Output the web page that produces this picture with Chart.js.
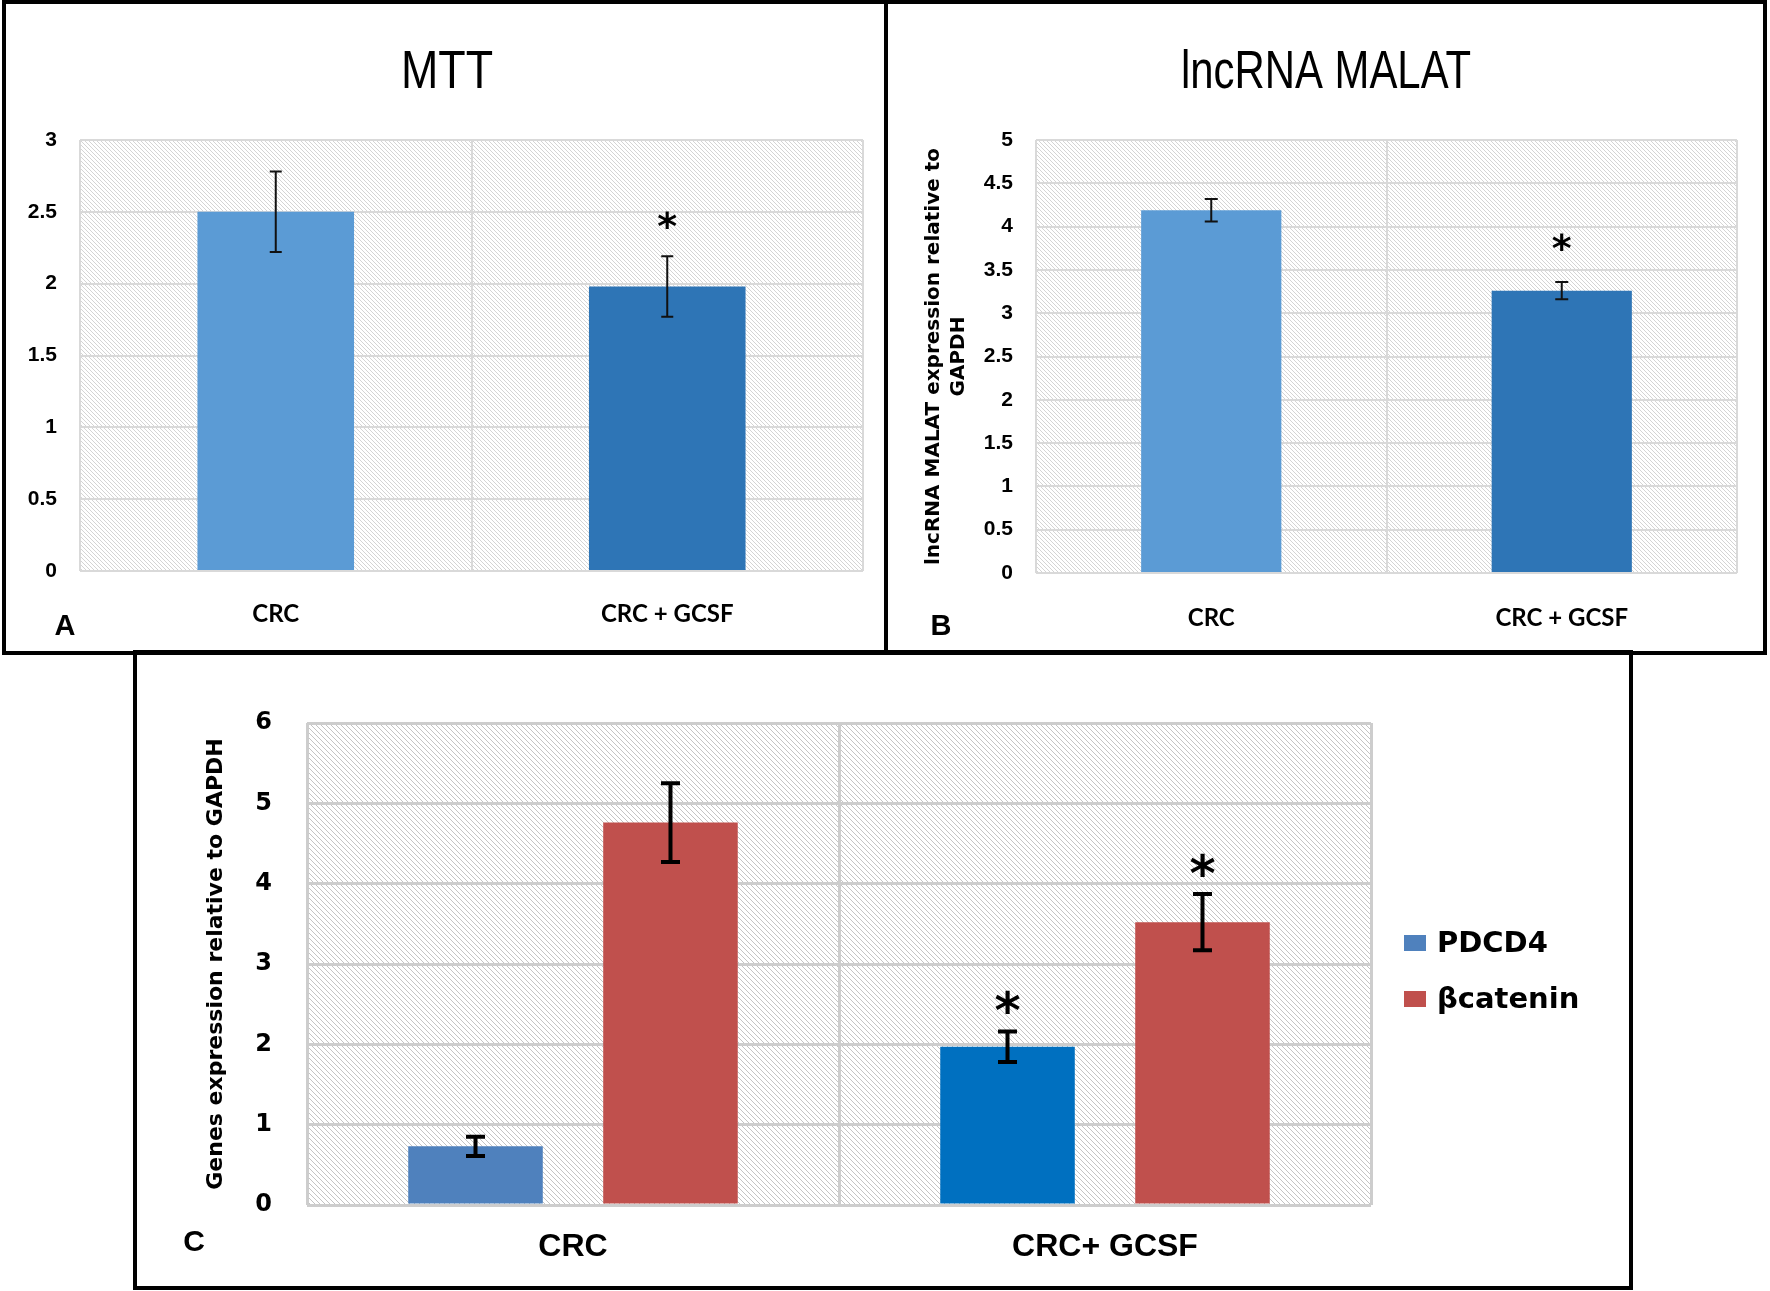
<!DOCTYPE html>
<html>
<head>
<meta charset="utf-8">
<script src="https://cdn.jsdelivr.net/npm/chart.js@4.4.1/dist/chart.umd.min.js"></script>
<style>
  body { margin: 0; background: #fff; width: 1770px; height: 1291px; position: relative; overflow: hidden; }
  canvas { position: absolute; }
  .box { position: absolute; border: 4px solid #000; box-sizing: border-box; }
</style>
</head>
<body>
<canvas id="chartA" width="886" height="652" style="left:0;top:0"></canvas>
<canvas id="chartB" width="880" height="652" style="left:886px;top:0"></canvas>
<canvas id="chartC" width="1500" height="636" style="left:133px;top:652px"></canvas>
<div class="box" style="left:2px;top:0;width:886px;height:655px"></div>
<div class="box" style="left:884px;top:0;width:883px;height:655px"></div>
<div class="box" style="left:133px;top:650px;width:1500px;height:640px"></div>
<script>
// panel A - MTT
const groups = ['CRC', 'CRC + GCSF'];
const mttMean = [2.5, 1.98];
const mttErr = [0.28, 0.21];
const mttSig = [false, true];
const mttTicks = [0, 0.5, 1, 1.5, 2, 2.5, 3];

// panel B - lncRNA MALAT
const malatMean = [4.19, 3.26];
const malatErr = [0.13, 0.1];
const malatSig = [false, true];
const malatTicks = [0, 0.5, 1, 1.5, 2, 2.5, 3, 3.5, 4, 4.5, 5];

// panel C - genes
const groupsC = ['CRC', 'CRC+ GCSF'];
const pdcd4Mean = [0.73, 1.97];
const pdcd4Err = [0.12, 0.19];
const pdcd4Sig = [false, true];
const bcatMean = [4.76, 3.52];
const bcatErr = [0.49, 0.35];
const bcatSig = [false, true];
const genesTicks = [0, 1, 2, 3, 4, 5, 6];

Chart.defaults.color = '#000';

const lato = 'Lato, "Liberation Sans", sans-serif';
const arial = '"Liberation Sans", sans-serif';
const dejavu = '"DejaVu Sans", sans-serif';

function hatch(ctx, size, color) {
    const c = document.createElement('canvas');
    c.width = c.height = size;
    const g = c.getContext('2d');
    g.fillStyle = '#fff';
    g.fillRect(0, 0, size, size);
    g.fillStyle = color;
    for (let i = 0; i < size; i++) g.fillRect(i, i, 1, 1);
    return ctx.createPattern(c, 'repeat');
}

// hatched plot background, error bars, stars, titles, legend
const panelPlugin = {
    id: 'panel',
    beforeDraw(chart, args, opts) {
        const { ctx, chartArea: a } = chart;
        if (!chart.$hatch) chart.$hatch = hatch(ctx, opts.hatchSize, opts.hatchColor);
        ctx.save();
        ctx.fillStyle = chart.$hatch;
        ctx.fillRect(a.left, a.top, a.right - a.left, a.bottom - a.top);
        ctx.restore();
    },
    afterDatasetsDraw(chart, args, opts) {
        const { ctx } = chart;
        const y = chart.scales.y;
        chart.data.datasets.forEach((ds, di) => {
            chart.getDatasetMeta(di).data.forEach((bar, i) => {
                const top = y.getPixelForValue(ds.data[i] + ds.errors[i]);
                const bot = y.getPixelForValue(ds.data[i] - ds.errors[i]);
                const half = opts.capWidth / 2;
                ctx.save();
                ctx.strokeStyle = opts.errColor;
                ctx.lineWidth = opts.errWidth;
                ctx.beginPath();
                ctx.moveTo(bar.x, top); ctx.lineTo(bar.x, bot);
                ctx.moveTo(bar.x - half, top); ctx.lineTo(bar.x + half, top);
                ctx.moveTo(bar.x - half, bot); ctx.lineTo(bar.x + half, bot);
                ctx.stroke();
                if (ds.sig[i]) {
                    ctx.font = opts.starFont;
                    ctx.fillStyle = '#000';
                    ctx.textAlign = 'center';
                    ctx.textBaseline = 'alphabetic';
                    const m = ctx.measureText('*');
                    const cy = top - opts.starGap;
                    ctx.fillText('*', bar.x, cy + (m.actualBoundingBoxAscent - m.actualBoundingBoxDescent) / 2);
                }
                ctx.restore();
            });
        });
    },
    afterDraw(chart, args, opts) {
        const { ctx } = chart;
        ctx.save();
        ctx.fillStyle = '#000';
        ctx.textAlign = 'center';
        ctx.textBaseline = 'middle';
        if (opts.title) {
            ctx.save();
            ctx.font = opts.titleFont;
            ctx.translate(opts.titleX, opts.titleY);
            ctx.scale(opts.titleScaleX, 1);
            ctx.fillText(opts.title, 0, 0);
            ctx.restore();
        }
        ctx.font = opts.letterFont;
        ctx.fillText(opts.letter, opts.letterX, opts.letterY);
        if (opts.legend) {
            const lg = opts.legend;
            ctx.textAlign = 'left';
            ctx.font = lg.font;
            chart.data.datasets.forEach((ds, di) => {
                const cy = lg.y + di * lg.gap;
                ctx.fillStyle = ds.legendColor;
                ctx.fillRect(lg.x, cy - lg.boxH / 2, lg.boxW, lg.boxH);
                ctx.fillStyle = '#000';
                ctx.fillText(ds.label, lg.x + lg.boxW + lg.textGap, cy + 1);
            });
        }
        ctx.restore();
    }
};

function yScale(max, ticks, width, pad, font, grid, title) {
    return {
        min: 0,
        max: max,
        afterBuildTicks: s => { s.ticks = ticks.map(v => ({ value: v })); },
        afterFit: s => { s.width = width; },
        grid: grid,
        border: { display: false },
        ticks: { padding: pad, font: font, callback: v => String(v) },
        title: title || { display: false }
    };
}

function xScale(height, pad, font, grid) {
    return {
        afterFit: s => { s.height = height; },
        grid: grid,
        border: { display: false },
        ticks: { padding: pad, font: font }
    };
}

const gridAB = { color: '#d9d9d9', lineWidth: 2, drawTicks: false };
const gridC = { color: '#cdcdcd', lineWidth: 3, drawTicks: false };

new Chart(document.getElementById('chartA'), {
    type: 'bar',
    data: {
        labels: groups,
        datasets: [{
            label: 'MTT',
            data: mttMean,
            errors: mttErr,
            sig: mttSig,
            backgroundColor: ['#5b9bd5', '#2e75b6'],
            barPercentage: 0.4,
            categoryPercentage: 1
        }]
    },
    options: {
        responsive: false,
        animation: false,
        devicePixelRatio: 1,
        layout: { padding: { top: 140, right: 23, left: 0, bottom: 0 } },
        plugins: {
            legend: { display: false },
            tooltip: { enabled: false },
            panel: {
                hatchSize: 4, hatchColor: '#d4d4d4',
                errColor: '#111', errWidth: 2, capWidth: 12,
                starFont: 'bold 38px ' + dejavu, starGap: 36,
                title: 'MTT', titleFont: '54px ' + arial, titleScaleX: 0.83, titleX: 447, titleY: 73,
                letter: 'A', letterFont: 'bold 29px ' + arial, letterX: 65, letterY: 627
            }
        },
        scales: {
            x: xScale(81, 29, { family: lato, size: 24, weight: 'bold' }, gridAB),
            y: yScale(3, mttTicks, 80, 23, { family: arial, size: 21, weight: 'bold' }, gridAB)
        }
    },
    plugins: [panelPlugin]
});

new Chart(document.getElementById('chartB'), {
    type: 'bar',
    data: {
        labels: groups,
        datasets: [{
            label: 'lncRNA MALAT',
            data: malatMean,
            errors: malatErr,
            sig: malatSig,
            backgroundColor: ['#5b9bd5', '#2e75b6'],
            barPercentage: 0.4,
            categoryPercentage: 1
        }]
    },
    options: {
        responsive: false,
        animation: false,
        devicePixelRatio: 1,
        layout: { padding: { top: 140, right: 29, left: 0, bottom: 0 } },
        plugins: {
            legend: { display: false },
            tooltip: { enabled: false },
            panel: {
                hatchSize: 4, hatchColor: '#d4d4d4',
                errColor: '#111', errWidth: 2, capWidth: 13,
                starFont: 'bold 38px ' + dejavu, starGap: 40,
                title: 'lncRNA MALAT', titleFont: '53px ' + arial, titleScaleX: 0.79, titleX: 440, titleY: 73,
                letter: 'B', letterFont: 'bold 29px ' + arial, letterX: 55, letterY: 627
            }
        },
        scales: {
            x: xScale(79, 31, { family: lato, size: 24, weight: 'bold' }, gridAB),
            y: yScale(5, malatTicks, 150, 23, { family: arial, size: 21, weight: 'bold' }, gridAB, {
                display: true,
                text: ['lncRNA MALAT expression relative to', 'GAPDH'],
                font: { family: dejavu, size: 20, weight: 'bold', lineHeight: 1.25 },
                padding: { top: 35, bottom: 0 }
            })
        }
    },
    plugins: [panelPlugin]
});

new Chart(document.getElementById('chartC'), {
    type: 'bar',
    data: {
        labels: groupsC,
        datasets: [{
            label: 'PDCD4',
            data: pdcd4Mean,
            errors: pdcd4Err,
            sig: pdcd4Sig,
            backgroundColor: ['#4f81bd', '#0070c0'],
            legendColor: '#4f81bd',
            barPercentage: 0.69,
            categoryPercentage: 0.733
        }, {
            label: 'βcatenin',
            data: bcatMean,
            errors: bcatErr,
            sig: bcatSig,
            backgroundColor: '#c0504d',
            legendColor: '#c0504d',
            barPercentage: 0.69,
            categoryPercentage: 0.733
        }]
    },
    options: {
        responsive: false,
        animation: false,
        devicePixelRatio: 1,
        layout: { padding: { top: 71, right: 262, left: 0, bottom: 0 } },
        plugins: {
            legend: { display: false },
            tooltip: { enabled: false },
            panel: {
                hatchSize: 5, hatchColor: '#c4c4c4',
                errColor: '#000', errWidth: 4, capWidth: 19,
                starFont: 'bold 50px ' + dejavu, starGap: 29,
                letter: 'C', letterFont: 'bold 30px ' + arial, letterX: 61, letterY: 591,
                legend: { x: 1271, y: 291, gap: 56, boxW: 22, boxH: 16, textGap: 11, font: 'bold 29px ' + dejavu }
            }
        },
        scales: {
            x: xScale(83, 23, { family: arial, size: 32, weight: 'bold' }, gridC),
            y: yScale(6, genesTicks, 174, 35, { family: dejavu, size: 24, weight: 'bold' }, gridC, {
                display: true,
                text: 'Genes expression relative to GAPDH',
                font: { family: dejavu, size: 22, weight: 'bold', lineHeight: 1.2 },
                padding: { top: 70, bottom: 0 }
            })
        }
    },
    plugins: [panelPlugin]
});
</script>
</body>
</html>
